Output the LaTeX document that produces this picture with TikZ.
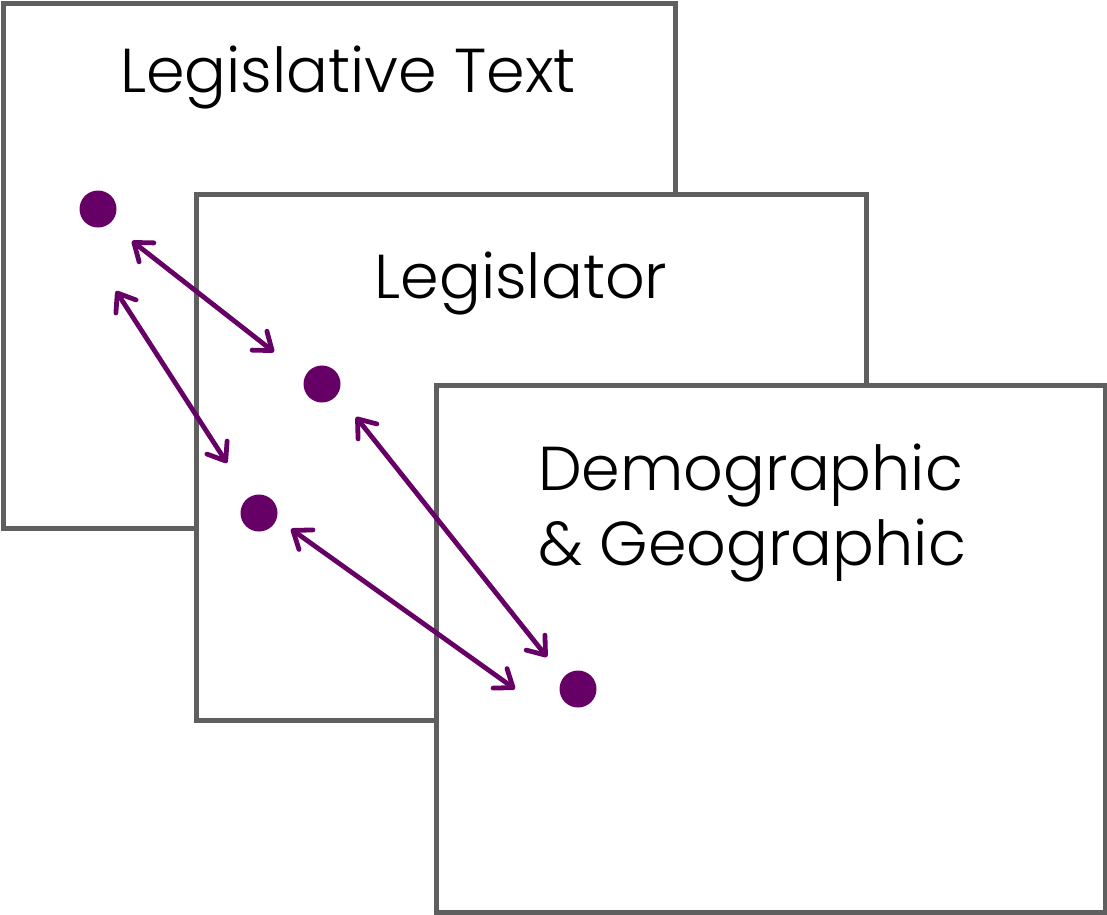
\documentclass[tikz,border=0pt]{standalone}
\usepackage{fontspec}
\setmainfont{Poppins Light}
\usetikzlibrary{arrows.meta}
\definecolor{bordergray}{HTML}{5F5F5F}
\definecolor{dotpurple}{HTML}{660066}
\begin{document}
\begin{tikzpicture}[x=1pt,y=-1pt,
  panel/.style={draw=bordergray,line width=5pt,fill=white},
  title/.style={font=\fontsize{62}{74}\selectfont,anchor=base,inner sep=0pt},
  dot/.style={circle,fill=dotpurple,minimum size=37pt,inner sep=0pt},
  link/.style={draw=dotpurple,line width=4.8pt,line cap=round,
    {Straight Barb[length=16pt,width=24pt,line cap=round,line join=round]}-{Straight Barb[length=16pt,width=24pt,line cap=round,line join=round]}}
]
\useasboundingbox (0,0) rectangle (1107,914);
\draw[panel] (3,3) rectangle (675,528);
\draw[panel] (196,194) rectangle (866,720);
\draw[panel] (436,385) rectangle (1105,912);
\node[title] (t1) at (348,92) {Legislative Text};
\node[title] (t2) at (521,298) {Legislator};
\node[title,anchor=base west,align=left] (t3) at (538,490) {Demographic};
\node[title,anchor=base west] (t4) at (538,565) {\& Geographic};
\node[dot] (d1) at (98,209) {};
\node[dot] (d2) at (322,384) {};
\node[dot] (d3) at (259,513) {};
\node[dot] (d4) at (578,689) {};
\coordinate (a1s) at (132,241);
\coordinate (a1e) at (274,352);
\coordinate (a2s) at (116,291);
\coordinate (a2e) at (227,463);
\coordinate (a3s) at (356,417);
\coordinate (a3e) at (547,657);
\coordinate (a4s) at (291,529);
\coordinate (a4e) at (515,689);
\draw[link] (a1s) -- (a1e);
\draw[link] (a2s) -- (a2e);
\draw[link] (a3s) -- (a3e);
\draw[link] (a4s) -- (a4e);
\end{tikzpicture}
\end{document}
